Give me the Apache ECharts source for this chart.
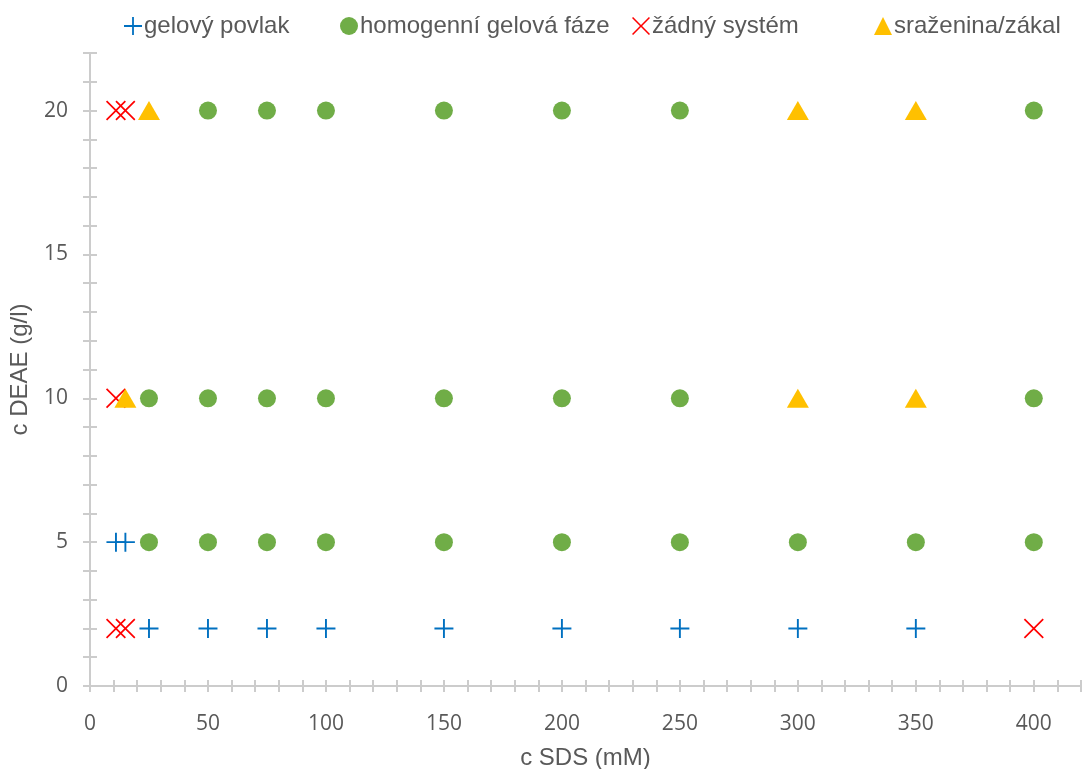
<!DOCTYPE html>
<html>
<head>
<meta charset="utf-8">
<script src="https://cdn.jsdelivr.net/npm/echarts@6/dist/echarts.min.js"></script>
<style>
  html, body { margin: 0; padding: 0; background: #fff; }
  #chart { width: 1085px; height: 769px; }
</style>
</head>
<body>
<div id="chart"></div>
<script>
// c SDS (mM) / c DEAE (g/l) pairs for each observed state
const seriesNames = ['gelový povlak', 'homogenní gelová fáze', 'žádný systém', 'sraženina/zákal']
const gelCoat = [[11, 5], [15, 5], [25, 2], [50, 2], [75, 2], [100, 2], [150, 2], [200, 2], [250, 2], [300, 2], [350, 2]]
const homogenGel = [
  [50, 20], [75, 20], [100, 20], [150, 20], [200, 20], [250, 20], [400, 20],
  [25, 10], [50, 10], [75, 10], [100, 10], [150, 10], [200, 10], [250, 10], [400, 10],
  [25, 5], [50, 5], [75, 5], [100, 5], [150, 5], [200, 5], [250, 5], [300, 5], [350, 5], [400, 5]
]
const noSystem = [[11, 20], [15, 20], [11, 10], [11, 2], [15, 2], [400, 2]]
const precipitate = [[25, 20], [300, 20], [350, 20], [15, 10], [300, 10], [350, 10]]

const xMin = 0, xMax = 420, xStep = 10, xLabelStep = 50
const yMin = 0, yMax = 22, yStep = 1, yLabelStep = 5

const colors = ['#0070C0', '#70AD47', '#FF0000', '#FFC000']
const plusPath = 'path://M9,0 H11 V9 H20 V11 H11 V20 H9 V11 H0 V9 H9 Z'
const crossPath = 'path://M1.2,0 L10,8.8 L18.8,0 L20,1.2 L11.2,10 L20,18.8 L18.8,20 L10,11.2 L1.2,20 L0,18.8 L8.8,10 L0,1.2 Z'
const symbols = [plusPath, 'circle', crossPath, 'triangle']
const legendLeft = [119, 335, 627, 869]

const chart = echarts.init(document.getElementById('chart'))

const axisGrey = '#CCCCCC'
const textGrey = '#595959'
const labelFont = { color: textGrey, fontFamily: 'Open Sans', fontSize: 21 }
const nameFont = { color: textGrey, fontFamily: 'Liberation Sans', fontSize: 24 }

// one legend per item, Excel spaces them unevenly
const legends = seriesNames.map((name, i) => ({
  top: 9,
  left: legendLeft[i],
  itemWidth: 18,
  itemHeight: 18,
  data: [{ name: name, icon: symbols[i] }],
  textStyle: Object.assign({ padding: [0, 0, 0, -3] }, nameFont)
}))

// second axis on the same side only draws the inner half of the ticks
const innerX = {
  type: 'value', position: 'bottom', min: xMin, max: xMax, interval: xStep,
  axisLine: { show: false },
  axisTick: { show: true, inside: true, length: 6, lineStyle: { color: axisGrey, width: 2 } },
  axisLabel: { show: false },
  splitLine: { show: false }
}
const innerY = {
  type: 'value', position: 'left', min: yMin, max: yMax, interval: yStep,
  axisLine: { show: false },
  axisTick: { show: true, inside: true, length: 7, lineStyle: { color: axisGrey, width: 2 } },
  axisLabel: { show: false },
  splitLine: { show: false }
}

const option = {
  animation: false,
  grid: { left: 90, right: 4, top: 53, bottom: 83, outerBoundsMode: 'none', containLabel: false },
  legend: legends,
  xAxis: [
    {
      type: 'value', position: 'bottom', min: xMin, max: xMax, interval: xStep,
      name: 'c SDS (mM)', nameLocation: 'middle', nameGap: 60,
      nameTextStyle: nameFont,
      axisLine: { show: true, lineStyle: { color: axisGrey, width: 2 } },
      axisTick: { show: true, length: 6, lineStyle: { color: axisGrey, width: 2 } },
      axisLabel: Object.assign({ margin: 28, formatter: v => (v % xLabelStep === 0 ? v : '') }, labelFont),
      splitLine: { show: false }
    },
    innerX
  ],
  yAxis: [
    {
      type: 'value', position: 'left', min: yMin, max: yMax, interval: yStep,
      name: 'c DEAE (g/l)', nameLocation: 'middle', nameGap: 58,
      nameTextStyle: nameFont,
      axisLine: { show: true, lineStyle: { color: axisGrey, width: 2 } },
      axisTick: { show: true, length: 7, lineStyle: { color: axisGrey, width: 2 } },
      axisLabel: Object.assign({ margin: 22, formatter: v => (v % yLabelStep === 0 ? v : '') }, labelFont),
      splitLine: { show: false }
    },
    innerY
  ],
  series: [
    { name: seriesNames[0], type: 'scatter', data: gelCoat, symbol: plusPath, symbolSize: 19,
      itemStyle: { color: colors[0], opacity: 1 } },
    { name: seriesNames[1], type: 'scatter', data: homogenGel, symbol: 'circle', symbolSize: 18,
      itemStyle: { color: colors[1], opacity: 1 } },
    { name: seriesNames[2], type: 'scatter', data: noSystem, symbol: crossPath, symbolSize: 20,
      itemStyle: { color: colors[2], opacity: 1 } },
    { name: seriesNames[3], type: 'scatter', data: precipitate, symbol: 'triangle', symbolSize: [22, 19],
      itemStyle: { color: colors[3], opacity: 1 } }
  ]
}

chart.setOption(option)
</script>
</body>
</html>
